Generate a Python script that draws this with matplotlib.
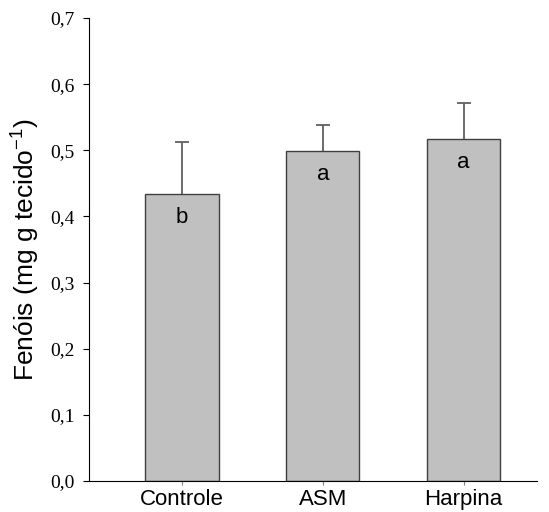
import numpy as np
import matplotlib
matplotlib.use('Agg')
import matplotlib.pyplot as plt

groups = ['Controle', 'ASM', 'Harpina']
means = [0.434, 0.499, 0.517]
errs = [0.079, 0.039, 0.055]
letters = ['b', 'a', 'a']
yticks = [0.0, 0.1, 0.2, 0.3, 0.4, 0.5, 0.6, 0.7]
ytick_labels = ['0,0', '0,1', '0,2', '0,3', '0,4', '0,5', '0,6', '0,7']

plt.rcParams['font.family'] = 'Liberation Sans'

fig = plt.figure(figsize=(5.49, 5.12), dpi=100)
ax = fig.add_axes([89/549, 31/512, 448/549, 463/512])

x = np.arange(len(groups))
ax.bar(x, means, width=0.52, color='#c0c0c0', edgecolor='#404040', linewidth=1.0, zorder=2)
# symmetric bars drawn behind the boxes so only the upper half shows
ax.errorbar(x, means, yerr=errs, fmt='none', ecolor='#606060',
            elinewidth=1.3, capsize=5, capthick=1.3, zorder=1)

for xi, m, l in zip(x, means, letters):
    ax.text(xi, m - 0.044, l, ha='center', va='baseline', fontsize=16)

ax.set_xlim(-0.66, 2.52)
ax.set_ylim(0, 0.7)
ax.set_xticks(x)
ax.set_xticklabels(groups, fontsize=16)
ax.set_yticks(yticks)
ax.set_yticklabels(ytick_labels, fontsize=14, family='Liberation Serif')
ax.tick_params(axis='x', length=3, color='#808080', pad=3)
ax.tick_params(axis='y', length=4.5, pad=6)
ax.spines['top'].set_visible(False)
ax.spines['right'].set_visible(False)
ax.set_ylabel('Fenóis (mg g tecido$^{\\mathregular{-1}}$)', fontsize=19)
ax.yaxis.set_label_coords(-0.107, 0.5)

fig.savefig('out.png', dpi=100)
